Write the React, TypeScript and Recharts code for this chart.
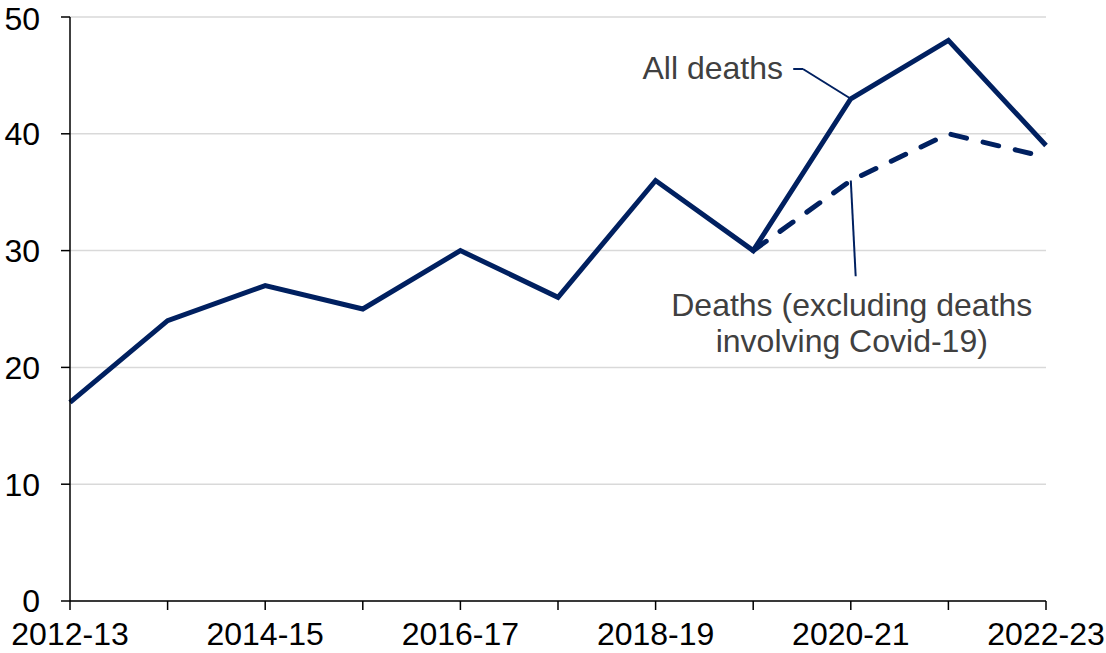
import {LineChart, Line, XAxis, YAxis, CartesianGrid, ReferenceLine, ReferenceDot} from "recharts";

// 연도 카테고리
const years = ["2012-13", "2013-14", "2014-15", "2015-16", "2016-17", "2017-18", "2018-19", "2019-20", "2020-21", "2021-22", "2022-23"];
const allDeaths = [17, 24, 27, 25, 30, 26, 36, 30, 43, 48, 39];
const excludingCovid: (number | null)[] = [null, null, null, null, null, null, null, 30, 36, 40, 38];
const yTicks = [0, 10, 20, 30, 40, 50];

const NAVY = "#002060";
const FONT = "'Liberation Sans', Arial, sans-serif";

const chartData = years.map((year, i) => ({
    x: i,
    year,
    all: allDeaths[i],
    excl: excludingCovid[i],
}));

const xTicks = years.map((_, i) => i);

const AllDeathsLabel = (props: any) => {
    const vb = props.viewBox;
    if (!vb) return null;
    const cx = vb.x + (vb.width || 0) / 2;
    const cy = vb.y + (vb.height || 0) / 2;
    return (
        <text x={cx} y={cy} textAnchor="end" dominantBaseline="central" fill="#404040" fontSize={32} fontFamily={FONT}>
            All deaths
        </text>
    );
};

const ExclLabel = (props: any) => {
    const vb = props.viewBox;
    if (!vb) return null;
    const cx = vb.x + (vb.width || 0) / 2;
    const cy = vb.y + (vb.height || 0) / 2;
    return (
        <text textAnchor="middle" dominantBaseline="central" fill="#404040" fontSize={32} fontFamily={FONT}>
            <tspan x={cx} y={cy - 18}>Deaths (excluding deaths</tspan>
            <tspan x={cx} y={cy + 18}>involving Covid-19)</tspan>
        </text>
    );
};

const App = () => {
    return (
        <div style={{position: "absolute", left: 0, top: 0, width: 1106, height: 653, background: "#fff"}}>
            <LineChart width={1106} height={653} data={chartData} margin={{top: 17, right: 60, bottom: 0, left: 0}}>
                <CartesianGrid vertical={false} stroke="#d9d9d9" strokeWidth={1.5}/>
                <XAxis
                    dataKey="x"
                    type="number"
                    domain={[0, 10]}
                    ticks={xTicks}
                    interval={0}
                    height={52}
                    tickFormatter={(v: number) => (v % 2 === 0 ? years[v] : "")}
                    stroke="#000"
                    strokeWidth={1.5}
                    tickSize={9}
                    tickMargin={12}
                    tick={{fill: "#000", fontSize: 32, fontFamily: FONT}}
                />
                <YAxis
                    type="number"
                    domain={[0, 50]}
                    ticks={yTicks}
                    width={70}
                    stroke="#000"
                    strokeWidth={1.5}
                    tickSize={9}
                    tickMargin={21}
                    tick={{fill: "#000", fontSize: 32, fontFamily: FONT}}
                />
                <Line
                    dataKey="excl"
                    type="linear"
                    stroke={NAVY}
                    strokeWidth={5}
                    strokeDasharray="16 17"
                    strokeLinecap="round"
                    dot={false}
                    activeDot={false}
                    isAnimationActive={false}
                />
                <Line
                    dataKey="all"
                    type="linear"
                    stroke={NAVY}
                    strokeWidth={5}
                    strokeLinejoin="miter"
                    dot={false}
                    activeDot={false}
                    isAnimationActive={false}
                />
                {/* 주석 지시선 */}
                <ReferenceLine segment={[{x: 7.41, y: 45.55}, {x: 7.51, y: 45.55}]} stroke={NAVY} strokeWidth={2}/>
                <ReferenceLine segment={[{x: 7.51, y: 45.55}, {x: 8.0, y: 43}]} stroke={NAVY} strokeWidth={2}/>
                <ReferenceLine segment={[{x: 8.0, y: 36}, {x: 8.05, y: 27.8}]} stroke={NAVY} strokeWidth={2}/>
                <ReferenceDot x={7.305} y={45.6} r={1} fill="none" stroke="none" label={{content: AllDeathsLabel}}/>
                <ReferenceDot x={8.01} y={23.8} r={1} fill="none" stroke="none" label={{content: ExclLabel}}/>
            </LineChart>
        </div>
    );
};

export default App;
